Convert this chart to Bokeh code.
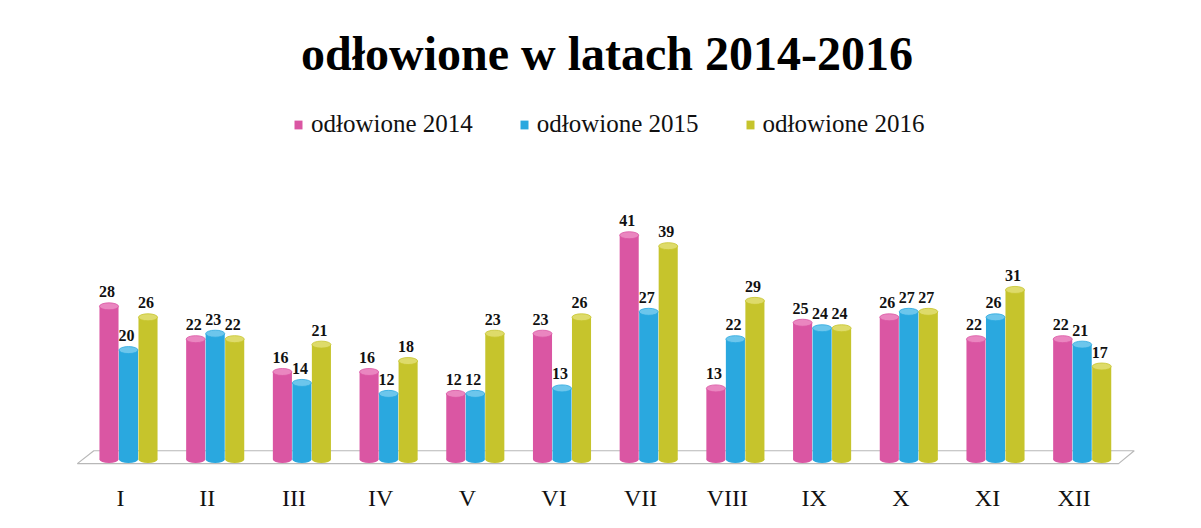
import numpy as np
from bokeh.plotting import figure
from bokeh.models import ColumnDataSource, Range1d, Label, Legend, LegendItem
from bokeh.core.properties import value
from bokeh.embed import file_html
from bokeh.resources import INLINE

months = ["I", "II", "III", "IV", "V", "VI", "VII", "VIII", "IX", "X", "XI", "XII"]
series_names = ["odłowione 2014", "odłowione 2015", "odłowione 2016"]
v2014 = [28, 22, 16, 16, 12, 23, 41, 13, 25, 26, 22, 22]
v2015 = [20, 23, 14, 12, 12, 13, 27, 22, 24, 27, 26, 21]
v2016 = [26, 22, 21, 18, 23, 26, 39, 29, 24, 27, 31, 17]
title_text = "odłowione w latach 2014-2016"

colors = ["#da56a3", "#2aa8df", "#c6c42c"]
top_colors = ["#ea86c0", "#6cc6ec", "#dedb6a"]
offsets = [-0.225, 0.0, 0.225]

W, H = 1193, 520
px_per_unit_y = 5.47
base_px = 459          # baseline distance from top of figure
unit_x = 86.7
first_center = 128.0

x0 = -first_center / unit_x
x_range = Range1d(x0, x0 + W / unit_x)
y_range = Range1d(-(H - base_px) / px_per_unit_y, base_px / px_per_unit_y)

p = figure(width=W, height=H, x_range=x_range, y_range=y_range,
           output_backend="svg", toolbar_location=None,
           x_axis_location=None, y_axis_location=None,
           min_border_left=0, min_border_right=0, min_border_top=0, min_border_bottom=0)
p.grid.visible = False
p.outline_line_color = None
p.background_fill_color = "white"
p.border_fill_color = "white"

xi = np.arange(len(months))
n = len(months)

# floor
p.patch(x=[-0.59, n - 1 + 0.42, n - 1 + 0.60, -0.40], y=[-0.75, -0.75, 1.6, 1.6],
        fill_color="white", line_color="#b8b8b8", line_width=1.2)

font = "Liberation Serif"
legend_items = []
for vals, name, c, tc, off in zip([v2014, v2015, v2016], series_names, colors, top_colors, offsets):
    src = ColumnDataSource(dict(x=xi + off, top=vals, label=[str(v) for v in vals],
                                zero=[0] * n))
    p.ellipse(x="x", y="zero", width=0.22, height=7, height_units="screen",
              fill_color=c, line_color=None, source=src)
    r = p.vbar(x="x", top="top", bottom=0, width=0.22, fill_color=c, line_color=None, source=src)
    p.ellipse(x="x", y="top", width=0.22, height=7, height_units="screen",
              fill_color=tc, line_color=c, line_width=0.8, source=src)
    p.text(x="x", y="top", text="label", source=src, x_offset=-2, y_offset=-9,
           text_align="center", text_baseline="bottom",
           text_font=value(font), text_font_style="bold", text_font_size="16px",
           text_color="#111111")
    legend_items.append(LegendItem(label=name, renderers=[r]))

# month labels
msrc = ColumnDataSource(dict(x=xi, y=[0] * n, t=months))
p.text(x="x", y="y", text="t", source=msrc, x_offset=-8, y_offset=38.5,
       text_align="center", text_baseline="middle",
       text_font=value(font), text_font_size="24px", text_color="#111111")

# title
p.add_layout(Label(x=606.5, y=H - 52.6, x_units="screen", y_units="screen", text=title_text,
                   text_align="center", text_baseline="middle",
                   text_font=font, text_font_style="bold", text_font_size="48px",
                   text_color="#000000"))

legend = Legend(items=legend_items, orientation="horizontal", location=(293, H - 124 - 14),
                label_text_font=font, label_text_font_size="25px", label_text_color="#111111",
                glyph_width=10, glyph_height=11, label_standoff=8, spacing=46,
                padding=0, margin=0, border_line_color=None, background_fill_alpha=0,
                label_height=28)
p.add_layout(legend)

open("out.html", "w").write(file_html(p, INLINE))
